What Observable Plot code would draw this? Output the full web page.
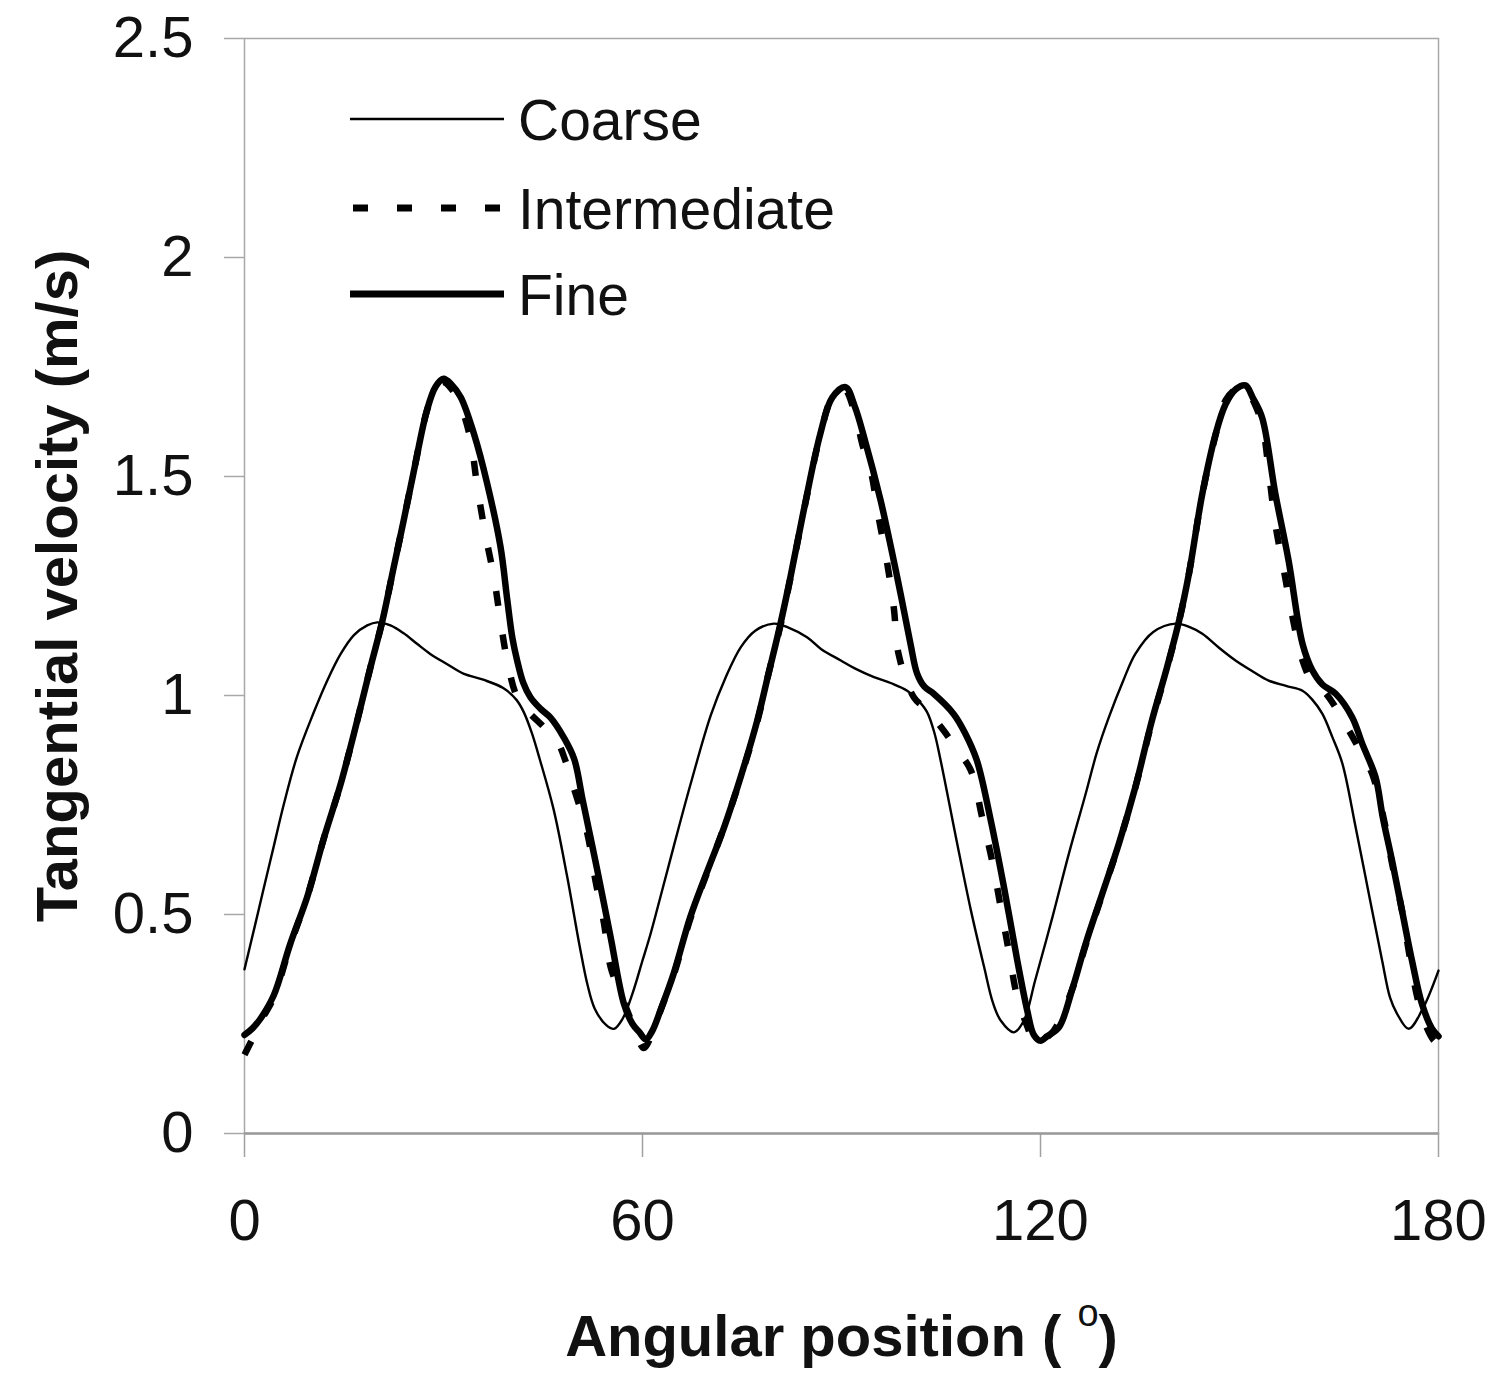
<!DOCTYPE html>
<html><head><meta charset="utf-8">
<script src="https://cdn.jsdelivr.net/npm/d3@7"></script>
<script src="https://cdn.jsdelivr.net/npm/@observablehq/plot@0.6"></script>
<style>
body{margin:0;background:#fff;}
#wrap{position:relative;width:1497px;height:1373px;font-family:"Liberation Sans",Arial,sans-serif;}
#legend{position:absolute;left:0;top:0;pointer-events:none;}
</style></head><body><div id="wrap"></div>
<script>
// ---- data (angle in degrees, tangential velocity in m/s) ----
const coarse = [
[0,0.375],[1.5,0.47],[2.9,0.56],[4.4,0.655],[5.9,0.75],[7.9,0.86],[10.4,0.96],[12.5,1.035],[14.5,1.095],[16.5,1.138],[18.5,1.16],[20,1.167],[22,1.16],[24,1.142],[26,1.118],[28,1.095],[30.5,1.072],[33,1.05],[36,1.036],[39,1.017],[41,0.99],[42.1,0.962],[43.3,0.915],[44.5,0.855],[46.6,0.74],[48.6,0.59],[50.5,0.43],[51.7,0.34],[52.8,0.285],[54.5,0.248],[55.7,0.239],[57,0.262],[58.5,0.32],[60,0.395],[61.2,0.455],[62.7,0.54],[64.7,0.655],[67.2,0.795],[70.3,0.955],[72.5,1.04],[74.8,1.11],[77,1.148],[79.8,1.164],[82,1.155],[84.8,1.133],[87,1.105],[89.9,1.08],[92,1.062],[94.9,1.042],[97.5,1.028],[99.9,1.011],[101.5,0.99],[102.9,0.962],[104,0.915],[104.9,0.855],[107.4,0.665],[109.5,0.51],[111.5,0.38],[112.8,0.3],[114,0.258],[116,0.231],[117.5,0.258],[119.2,0.35],[121.8,0.494],[124.3,0.64],[126.8,0.775],[128.5,0.87],[130.3,0.95],[132.5,1.035],[134.3,1.095],[137,1.145],[140.4,1.164],[142.5,1.156],[144.4,1.141],[147,1.108],[149.4,1.08],[152,1.055],[154.4,1.034],[157,1.022],[159.5,1.011],[161,0.99],[162.5,0.958],[164,0.905],[165.5,0.845],[167.5,0.70],[169.5,0.547],[171.5,0.395],[172.7,0.31],[173.7,0.275],[175.5,0.239],[177.5,0.281],[180,0.372]
];
const intermediate = [
[0,0.18],[1,0.21],[2.4,0.255],[4.4,0.31],[6.9,0.43],[9.45,0.54],[12,0.676],[14.5,0.798],[17,0.943],[19,1.065],[20.8,1.171],[22.5,1.293],[24,1.40],[25.5,1.51],[27.5,1.65],[28.8,1.70],[30,1.715],[31.2,1.70],[32.5,1.665],[34,1.59],[35.1,1.476],[36.3,1.369],[37.6,1.27],[38.6,1.17],[39.6,1.08],[41,1.00],[42.6,0.966],[45,0.93],[47.1,0.897],[48.4,0.85],[49.6,0.791],[51.7,0.684],[52.9,0.578],[54.2,0.479],[55.2,0.38],[57.2,0.30],[58.8,0.24],[60.2,0.195],[61.5,0.23],[62.7,0.28],[64.7,0.362],[67.2,0.49],[69.8,0.598],[72.3,0.70],[74.8,0.812],[77.3,0.94],[79,1.05],[80.8,1.16],[82.3,1.268],[84.3,1.42],[86.8,1.595],[88.6,1.68],[90.4,1.70],[92,1.645],[93.2,1.57],[94.4,1.514],[95.6,1.407],[96.9,1.301],[97.9,1.198],[98.6,1.095],[100.9,0.996],[103,0.965],[105.4,0.92],[107.5,0.875],[109.5,0.829],[111.2,0.722],[112.7,0.623],[114,0.517],[115.2,0.418],[116.5,0.311],[118,0.245],[119.2,0.205],[120.5,0.215],[122,0.235],[124.8,0.33],[126.8,0.43],[129.3,0.545],[131.8,0.66],[134.3,0.79],[136.8,0.94],[139,1.058],[140.9,1.17],[142.4,1.28],[144.4,1.46],[146.4,1.595],[147.9,1.674],[149.5,1.70],[150.9,1.705],[152,1.675],[153.4,1.62],[154.5,1.50],[155.4,1.392],[156.7,1.285],[157.9,1.186],[159.5,1.08],[161,1.03],[163,1.005],[166.5,0.92],[168.3,0.87],[170,0.821],[171.8,0.715],[173,0.616],[174.5,0.509],[175.5,0.418],[176.8,0.311],[178,0.25],[179.3,0.212],[180,0.205]
];
const fine = [
[0,0.225],[1.2,0.24],[2.4,0.262],[4.4,0.315],[6.9,0.433],[9.45,0.54],[12,0.676],[14.5,0.798],[17,0.943],[19,1.065],[20.8,1.171],[22.5,1.293],[24,1.40],[25.5,1.51],[27.5,1.651],[28.8,1.705],[30,1.723],[31.2,1.71],[32.6,1.681],[34.6,1.597],[36.6,1.483],[38.6,1.339],[39.6,1.22],[40.4,1.13],[41.1,1.08],[42,1.03],[43.1,0.996],[44.6,0.97],[46.1,0.95],[48.1,0.905],[49.7,0.855],[51,0.76],[53.2,0.60],[55.2,0.448],[57.2,0.296],[58.5,0.25],[59.5,0.232],[60.5,0.215],[61.5,0.235],[62.7,0.281],[64.7,0.365],[67.2,0.494],[69.8,0.600],[72.3,0.699],[74.8,0.814],[77.3,0.943],[79,1.05],[80.8,1.164],[82.3,1.27],[84.3,1.422],[86.8,1.597],[88.6,1.68],[90.6,1.704],[92,1.66],[93.4,1.59],[95.9,1.445],[98.4,1.27],[100.4,1.118],[101.4,1.05],[102.5,1.02],[103.9,1.004],[106.9,0.958],[108.6,0.915],[110.4,0.852],[112.5,0.715],[114.5,0.562],[116.5,0.395],[118,0.281],[119,0.225],[120,0.212],[121,0.222],[122.8,0.243],[124.8,0.33],[126.8,0.433],[129.3,0.547],[131.8,0.661],[134.3,0.791],[136.8,0.943],[139,1.06],[140.9,1.171],[142.4,1.28],[144.4,1.461],[146.4,1.597],[147.9,1.665],[149.5,1.70],[150.9,1.708],[152,1.68],[153.4,1.635],[155.4,1.461],[157.4,1.308],[159.5,1.118],[161,1.057],[162.5,1.025],[164.5,1.004],[167,0.95],[168.5,0.89],[170.5,0.814],[171.6,0.722],[173,0.623],[174.5,0.509],[176,0.395],[177.5,0.296],[179,0.24],[180,0.222]
];
const seriesNames = ["Coarse", "Intermediate", "Fine"];
const xTicks = [0, 60, 120, 180];
const yTicks = [0, 0.5, 1, 1.5, 2, 2.5];
const xTitle = "Angular position ( o)";
const yTitle = "Tangential velocity (m/s)";

// ---- styles ----
const FONT = '"Liberation Sans", Arial, Helvetica, sans-serif';
const styles = {
  Coarse: {strokeWidth: 2.4, dash: null},
  Intermediate: {strokeWidth: 6.5, dash: "15,29"},
  Fine: {strokeWidth: 6.5, dash: null}
};
const rows = (name, arr) => arr.map(([a, v]) => ({angle: a, velocity: v, mesh: name}));
const dataByName = {Coarse: coarse, Intermediate: intermediate, Fine: fine};

const lineMarks = seriesNames.map(name => Plot.line(rows(name, dataByName[name]), {
  x: "angle", y: "velocity", curve: "catmull-rom", stroke: "#000",
  strokeWidth: styles[name].strokeWidth,
  strokeDasharray: styles[name].dash || undefined,
  strokeLinejoin: "round", strokeLinecap: styles[name].dash ? "butt" : "round"
}));

const chart = Plot.plot({
  width: 1497, height: 1373,
  marginLeft: 244, marginRight: 59, marginTop: 38, marginBottom: 240,
  style: {fontFamily: FONT, background: "#fff", color: "#111", overflow: "visible"},
  x: {domain: [0, 180]},
  y: {domain: [0, 2.5]},
  marks: [
    Plot.frame({stroke: "#a8a8a8", strokeWidth: 1.5}),
    Plot.axisY({ticks: yTicks, tickSize: 20, tickPadding: 31, fontSize: 58, stroke: "#a8a8a8", strokeWidth: 1.5, fill: "#111", label: null, tickFormat: d => String(d)}),
    Plot.axisX({ticks: xTicks, tickSize: 24, tickPadding: 41, fontSize: 58, stroke: "#a0a0a0", strokeWidth: 1.5, fill: "#111", label: null, tickFormat: d => String(d)}),
    Plot.ruleY([0], {stroke: "#9a9a9a", strokeWidth: 2.5}),
    ...lineMarks,
    Plot.text([xTitle], {text: d => d, frameAnchor: "bottom", textAnchor: "middle", dy: 222, fontSize: 58, fontWeight: "bold", lineAnchor: "bottom", fill: "#111"}),
    Plot.text([yTitle], {text: d => d, frameAnchor: "left", textAnchor: "middle", dx: -168, rotate: -90, fontSize: 58, fontWeight: "bold", lineAnchor: "bottom", fill: "#111"})
  ]
});
document.getElementById("wrap").appendChild(chart);

// superscript "o" in the x title
d3.select(chart).selectAll("text").filter(function () { return this.textContent === xTitle; }).each(function () {
  const t = d3.select(this);
  t.text(null);
  t.append("tspan").text("Angular position ( ");
  t.append("tspan").attr("font-size", 38).attr("font-weight", "normal").attr("dy", -30).text("o");
  t.append("tspan").attr("dy", 30).text(")");
});

// ---- legend ----
const leg = d3.select("#wrap").append("svg").attr("id", "legend").attr("width", 1497).attr("height", 1373);
const legY = {Coarse: 119, Intermediate: 208, Fine: 294};
seriesNames.forEach(name => {
  const g = leg.append("g");
  g.append("line").attr("x1", styles[name].dash ? 353 : 350).attr("x2", 504).attr("y1", legY[name]).attr("y2", legY[name])
    .attr("stroke", "#000").attr("stroke-width", name === "Coarse" ? 2.6 : 7)
    .attr("stroke-dasharray", styles[name].dash);
  g.append("text").attr("x", 518).attr("y", legY[name]).attr("dy", "0.36em")
    .attr("font-family", FONT).attr("font-size", 57).attr("fill", "#111").text(name);
});
</script></body></html>
